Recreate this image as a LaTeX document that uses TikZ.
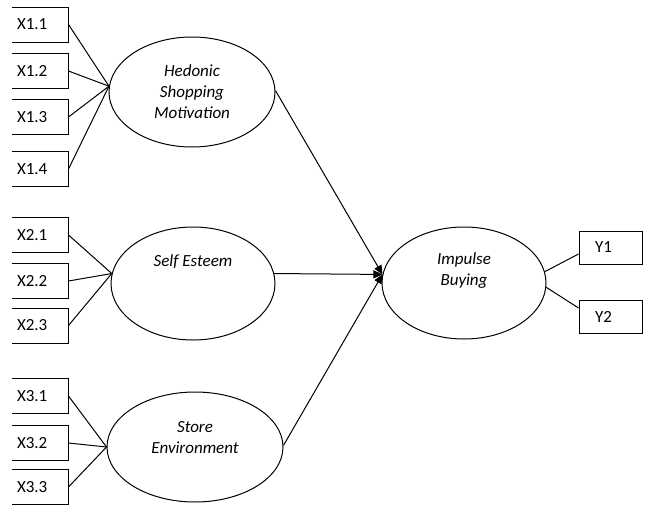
\documentclass[tikz,border=0pt]{standalone}
\usepackage{fontspec}
\setmainfont{Carlito}
\usetikzlibrary{arrows.meta,shapes.geometric}

\begin{document}
\begin{tikzpicture}[x=1pt,y=-1pt,line width=1pt,
		font=\fontsize{17}{21}\selectfont,
		ind/.style={minimum height=34pt,text width=46pt,align=left,inner xsep=5pt,inner ysep=0pt},
		outd/.style={draw,minimum width=63pt,minimum height=33pt,text width=31pt,align=left,inner xsep=16pt,inner ysep=0pt},
		lat/.style={draw,ellipse,inner sep=0pt},
		lbl/.style={align=center,font=\fontsize{17}{21}\selectfont\itshape},
		effect/.style={-{Triangle[length=9pt,width=8pt]}}]
		\useasboundingbox (0,0) rectangle (645,506);

		% Indicators (boxes cut at the left edge)
		\foreach \n/\t/\y in {x11/X1.1/24.5,x12/X1.2/71,x13/X1.3/117,x14/X1.4/169,
				x21/X2.1/235,x22/X2.2/281,x23/X2.3/325.5,
				x31/X3.1/396,x32/X3.2/443,x33/X3.3/487} {
			\node[ind] (\n) at (40,\y) {\t};
			\draw (\n.north west) -- (\n.north east) -- (\n.south east) -- (\n.south west);
		}
		\node[outd] (y1) at (610.5,247.5) {Y1};
		\node[outd] (y2) at (610.5,316.5) {Y2};

		% Constructs
		\node[lat,minimum width=166pt,minimum height=110pt] (hsm) at (192,92) {};
		\node[lbl] (hsm-t) at (hsm) {Hedonic\\Shopping\\Motivation};
		\node[lat,minimum width=164pt,minimum height=113pt] (se) at (193,283.5) {};
		\node[lbl] (se-t) at (193,262) {Self Esteem};
		\node[lat,minimum width=176pt,minimum height=110pt] (str) at (195,447) {};
		\node[lbl] (str-t) at (195,437.5) {Store\\Environment};
		\node[lat,minimum width=164pt,minimum height=112pt] (ib) at (464,283) {};
		\node[lbl] (ib-t) at (464,271) {Impulse\\Buying};

		% Loadings
		\foreach \n in {x11,x12,x13,x14} \draw (\n.east) -- (hsm.176);
		\foreach \n in {x21,x22,x23} \draw (\n.east) -- (se.173);
		\foreach \n in {x31,x32,x33} \draw (\n.east) -- (str.west);
		\draw (ib.8) -- ([yshift=-6.5pt]y1.west);
		\draw (ib.-3) -- ([yshift=8.5pt]y2.west);

		% Paths
		\draw[effect] (hsm.1) -- (ib.174);
		\draw[effect] (se.7) -- (ib.174);
		\draw[effect] (str.1) -- (ib.174);
	\end{tikzpicture}
\end{document}
